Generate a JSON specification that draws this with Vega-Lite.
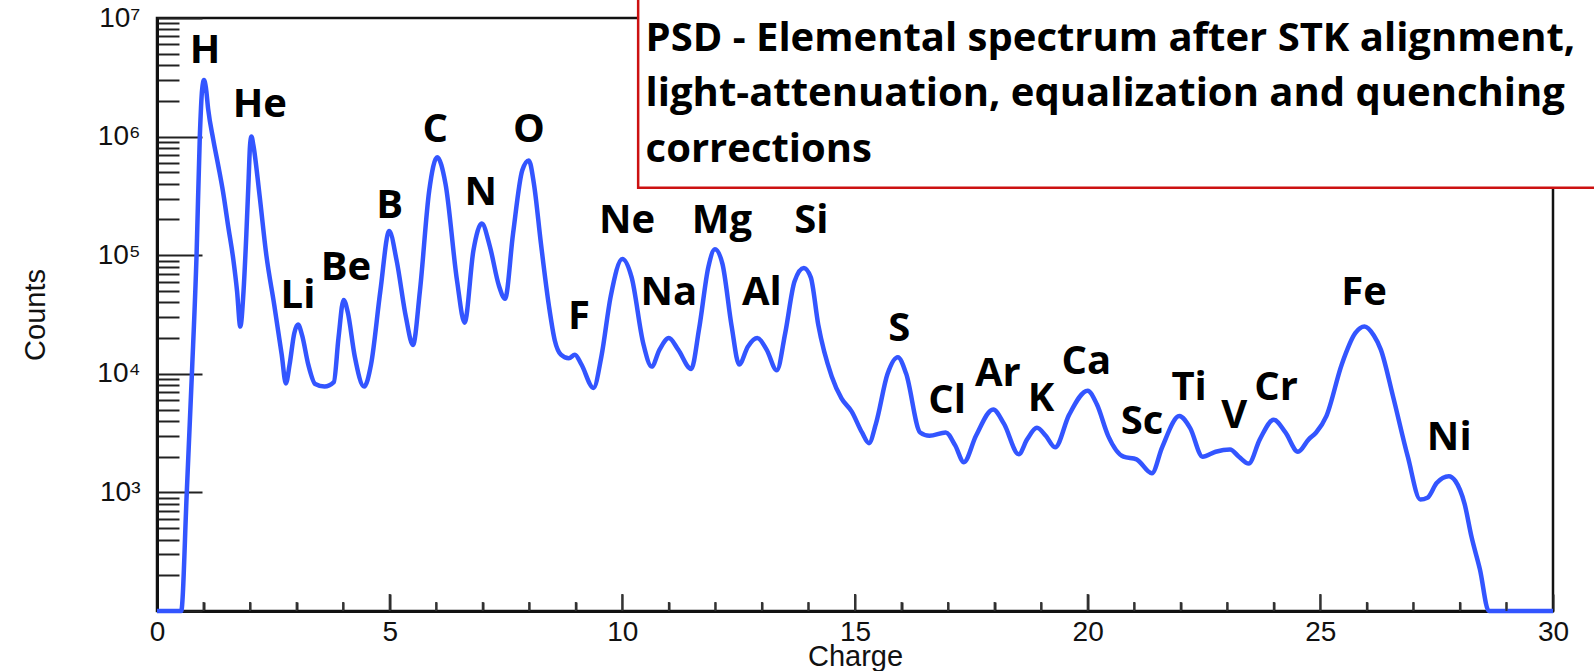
{
  "$schema": "https://vega.github.io/schema/vega-lite/v6.json",
  "width": 1396,
  "height": 593,
  "autosize": {"type": "none"},
  "padding": {"left": 157, "top": 18, "right": 41, "bottom": 60},
  "background": "white",
  "config": {
    "view": {"stroke": "#111", "strokeWidth": 2.5},
    "axis": {
      "grid": false,
      "ticks": true,
      "zindex": 1,
      "domainColor": "#111",
      "domainWidth": 3,
      "tickColor": "#222",
      "tickWidth": 2,
      "labelFont": "Liberation Sans",
      "labelFontSize": 28,
      "labelColor": "#111",
      "labelOverlap": false,
      "labelFlush": false,
      "titleFont": "Liberation Sans",
      "titleFontSize": 29,
      "titleFontWeight": "normal",
      "titleColor": "#111"
    }
  },
  "datasets": {
    "spectrum": [
      {"charge": 0, "counts": 100}, {"charge": 0.52, "counts": 100}, {"charge": 0.64, "counts": 1000},
      {"charge": 0.75, "counts": 10000}, {"charge": 0.85, "counts": 100000}, {"charge": 0.92, "counts": 1000000},
      {"charge": 0.97, "counts": 2500000}, {"charge": 1.01, "counts": 3000000}, {"charge": 1.05, "counts": 2600000},
      {"charge": 1.1, "counts": 1700000}, {"charge": 1.21, "counts": 940000}, {"charge": 1.32, "counts": 560000},
      {"charge": 1.42, "counts": 340000}, {"charge": 1.53, "counts": 175000}, {"charge": 1.64, "counts": 92000},
      {"charge": 1.72, "counts": 50000}, {"charge": 1.79, "counts": 25000}, {"charge": 1.86, "counts": 50000},
      {"charge": 1.92, "counts": 150000}, {"charge": 1.97, "counts": 450000}, {"charge": 2.0, "counts": 850000},
      {"charge": 2.03, "counts": 1000000}, {"charge": 2.07, "counts": 850000}, {"charge": 2.2, "counts": 330000},
      {"charge": 2.35, "counts": 100000}, {"charge": 2.52, "counts": 38000}, {"charge": 2.68, "counts": 14500},
      {"charge": 2.77, "counts": 8300}, {"charge": 2.85, "counts": 12000}, {"charge": 2.95, "counts": 22000},
      {"charge": 3.03, "counts": 26000}, {"charge": 3.12, "counts": 21000}, {"charge": 3.25, "counts": 12000},
      {"charge": 3.4, "counts": 8200}, {"charge": 3.6, "counts": 7800}, {"charge": 3.8, "counts": 8500},
      {"charge": 3.9, "counts": 20000}, {"charge": 4.01, "counts": 42000}, {"charge": 4.1, "counts": 33000},
      {"charge": 4.25, "counts": 14000}, {"charge": 4.45, "counts": 7800}, {"charge": 4.6, "counts": 12000},
      {"charge": 4.8, "counts": 50000}, {"charge": 4.99, "counts": 160000}, {"charge": 5.15, "counts": 90000},
      {"charge": 5.35, "counts": 30000}, {"charge": 5.5, "counts": 17500}, {"charge": 5.65, "counts": 50000},
      {"charge": 5.85, "counts": 350000}, {"charge": 6.02, "counts": 670000}, {"charge": 6.2, "counts": 400000},
      {"charge": 6.45, "counts": 60000}, {"charge": 6.61, "counts": 27000}, {"charge": 6.8, "counts": 110000},
      {"charge": 6.98, "counts": 185000}, {"charge": 7.15, "counts": 120000}, {"charge": 7.35, "counts": 55000},
      {"charge": 7.48, "counts": 43000}, {"charge": 7.65, "counts": 150000}, {"charge": 7.85, "counts": 520000},
      {"charge": 7.99, "counts": 630000}, {"charge": 8.1, "counts": 400000}, {"charge": 8.25, "counts": 126000},
      {"charge": 8.42, "counts": 38000}, {"charge": 8.55, "counts": 19000}, {"charge": 8.68, "counts": 14500},
      {"charge": 8.85, "counts": 13500}, {"charge": 8.98, "counts": 14500}, {"charge": 9.12, "counts": 12000},
      {"charge": 9.38, "counts": 7600}, {"charge": 9.55, "counts": 14000}, {"charge": 9.75, "counts": 45000},
      {"charge": 10.0, "counts": 93000}, {"charge": 10.2, "counts": 65000}, {"charge": 10.45, "counts": 18000},
      {"charge": 10.63, "counts": 11500}, {"charge": 10.8, "counts": 16000}, {"charge": 11.0, "counts": 20000},
      {"charge": 11.2, "counts": 16000}, {"charge": 11.48, "counts": 11000}, {"charge": 11.65, "counts": 24000},
      {"charge": 11.85, "counts": 80000}, {"charge": 11.99, "counts": 112000}, {"charge": 12.15, "counts": 85000},
      {"charge": 12.35, "counts": 25000}, {"charge": 12.51, "counts": 12000}, {"charge": 12.7, "counts": 17000},
      {"charge": 12.9, "counts": 20000}, {"charge": 13.1, "counts": 16000}, {"charge": 13.32, "counts": 10700},
      {"charge": 13.5, "counts": 22000}, {"charge": 13.7, "counts": 60000}, {"charge": 13.9, "counts": 78000},
      {"charge": 14.05, "counts": 65000}, {"charge": 14.21, "counts": 26000}, {"charge": 14.5, "counts": 9500},
      {"charge": 14.71, "counts": 6200}, {"charge": 14.93, "counts": 4800}, {"charge": 15.15, "counts": 3200},
      {"charge": 15.3, "counts": 2600}, {"charge": 15.45, "counts": 3800}, {"charge": 15.7, "counts": 10000},
      {"charge": 15.92, "counts": 13800}, {"charge": 16.1, "counts": 10000}, {"charge": 16.4, "counts": 3200},
      {"charge": 16.6, "counts": 3000}, {"charge": 16.95, "counts": 3200}, {"charge": 17.15, "counts": 2500},
      {"charge": 17.34, "counts": 1800}, {"charge": 17.6, "counts": 3000}, {"charge": 17.97, "counts": 5000},
      {"charge": 18.2, "counts": 3800}, {"charge": 18.52, "counts": 2100}, {"charge": 18.7, "counts": 2800},
      {"charge": 18.91, "counts": 3500}, {"charge": 19.1, "counts": 3000}, {"charge": 19.3, "counts": 2400},
      {"charge": 19.6, "counts": 4500}, {"charge": 20.0, "counts": 7200}, {"charge": 20.2, "counts": 5500},
      {"charge": 20.44, "counts": 3000}, {"charge": 20.77, "counts": 2000}, {"charge": 21.05, "counts": 1900},
      {"charge": 21.38, "counts": 1450}, {"charge": 21.6, "counts": 2400}, {"charge": 21.97, "counts": 4400},
      {"charge": 22.2, "counts": 3500}, {"charge": 22.47, "counts": 2000}, {"charge": 22.75, "counts": 2200},
      {"charge": 23.06, "counts": 2300}, {"charge": 23.25, "counts": 2000}, {"charge": 23.46, "counts": 1750},
      {"charge": 23.7, "counts": 2800}, {"charge": 24.0, "counts": 4100}, {"charge": 24.25, "counts": 3200},
      {"charge": 24.52, "counts": 2200}, {"charge": 24.75, "counts": 2800}, {"charge": 24.91, "counts": 3200},
      {"charge": 25.13, "counts": 4400}, {"charge": 25.46, "counts": 12000}, {"charge": 25.75, "counts": 22000},
      {"charge": 25.95, "counts": 25000}, {"charge": 26.15, "counts": 21000}, {"charge": 26.3, "counts": 16000},
      {"charge": 26.56, "counts": 6500}, {"charge": 26.88, "counts": 2000}, {"charge": 27.15, "counts": 870},
      {"charge": 27.3, "counts": 900}, {"charge": 27.5, "counts": 1200}, {"charge": 27.76, "counts": 1370},
      {"charge": 27.9, "counts": 1250}, {"charge": 28.1, "counts": 800}, {"charge": 28.25, "counts": 420},
      {"charge": 28.43, "counts": 224}, {"charge": 28.62, "counts": 100}, {"charge": 30, "counts": 100}
    ],
    "minorTicks": [
      {"charge": 1}, {"charge": 2}, {"charge": 3}, {"charge": 4}, {"charge": 6}, {"charge": 7},
      {"charge": 8}, {"charge": 9}, {"charge": 11}, {"charge": 12}, {"charge": 13}, {"charge": 14},
      {"charge": 16}, {"charge": 17}, {"charge": 18}, {"charge": 19}, {"charge": 21}, {"charge": 22},
      {"charge": 23}, {"charge": 24}, {"charge": 26}, {"charge": 27}, {"charge": 28}, {"charge": 29}
    ],
    "majorTicks": [
      {"charge": 5}, {"charge": 10}, {"charge": 15}, {"charge": 20}, {"charge": 25}
    ],
    "elements": [
      {"label": "H", "charge": 1.03, "counts": 5270000},
      {"label": "He", "charge": 2.21, "counts": 1850000},
      {"label": "Li", "charge": 3.03, "counts": 44900},
      {"label": "Be", "charge": 4.06, "counts": 78700},
      {"label": "B", "charge": 5.0, "counts": 261000},
      {"label": "C", "charge": 5.98, "counts": 1140000},
      {"label": "N", "charge": 6.96, "counts": 337000},
      {"label": "O", "charge": 7.99, "counts": 1140000},
      {"label": "F", "charge": 9.07, "counts": 30400},
      {"label": "Ne", "charge": 10.1, "counts": 195000},
      {"label": "Na", "charge": 11.0, "counts": 48400},
      {"label": "Mg", "charge": 12.14, "counts": 195000},
      {"label": "Al", "charge": 13.0, "counts": 48400},
      {"label": "Si", "charge": 14.06, "counts": 195000},
      {"label": "S", "charge": 15.95, "counts": 23700},
      {"label": "Cl", "charge": 16.98, "counts": 5860},
      {"label": "Ar", "charge": 18.07, "counts": 10000},
      {"label": "K", "charge": 19.0, "counts": 6090},
      {"label": "Ca", "charge": 19.97, "counts": 12500},
      {"label": "Sc", "charge": 21.17, "counts": 3900},
      {"label": "Ti", "charge": 22.18, "counts": 7530},
      {"label": "V", "charge": 23.15, "counts": 4380},
      {"label": "Cr", "charge": 24.05, "counts": 7530},
      {"label": "Fe", "charge": 25.94, "counts": 48400},
      {"label": "Ni", "charge": 27.77, "counts": 2860}
    ],
    "captionBox": [
      {"x0": 10.34, "x1": 32, "y0": 371000, "y1": 30000000}
    ],
    "caption": [
      {"text": "PSD - Elemental spectrum after STK alignment,", "charge": 10.5, "counts": 6660000},
      {"text": "light-attenuation, equalization and quenching", "charge": 10.5, "counts": 2290000},
      {"text": "corrections", "charge": 10.5, "counts": 774000}
    ]
  },
  "layer": [
    {
      "data": {"name": "spectrum"},
      "mark": {"type": "line", "color": "#3355ff", "strokeWidth": 4.5, "interpolate": "monotone", "strokeJoin": "round"},
      "encoding": {
        "x": {
          "field": "charge",
          "type": "quantitative",
          "scale": {"domain": [0, 30], "nice": false, "zero": false},
          "axis": {
            "title": "Charge",
            "values": [0, 1, 2, 3, 4, 5, 6, 7, 8, 9, 10, 11, 12, 13, 14, 15, 16, 17, 18, 19, 20, 21, 22, 23, 24, 25, 26, 27, 28, 29, 30],
            "labelExpr": "datum.value % 5 === 0 ? datum.label : ''",
            "tickSize": {"condition": {"test": "datum.value % 5 === 0", "value": -17}, "value": -9},
            "labelPadding": 24,
            "titlePadding": -12
          }
        },
        "y": {
          "field": "counts",
          "type": "quantitative",
          "scale": {"type": "log", "domain": [100, 10000000], "nice": false},
          "axis": {
            "title": "Counts",
            "values": [100, 200, 300, 400, 500, 600, 700, 800, 900, 1000, 2000, 3000, 4000, 5000, 6000, 7000, 8000, 9000, 10000, 20000, 30000, 40000, 50000, 60000, 70000, 80000, 90000, 100000, 200000, 300000, 400000, 500000, 600000, 700000, 800000, 900000, 1000000, 2000000, 3000000, 4000000, 5000000, 6000000, 7000000, 8000000, 9000000, 10000000],
            "labelExpr": "datum.value === 1000 ? '10³' : datum.value === 10000 ? '10⁴' : datum.value === 100000 ? '10⁵' : datum.value === 1000000 ? '10⁶' : datum.value === 10000000 ? '10⁷' : ''",
            "tickSize": {"condition": {"test": "indexof([100, 1000, 10000, 100000, 1000000, 10000000], datum.value) >= 0", "value": -45}, "value": -22},
            "labelPadding": 62,
            "titlePadding": 46
          }
        }
      }
    },
    {
      "data": {"name": "minorTicks"},
      "mark": {"type": "rule", "color": "#333", "strokeWidth": 2},
      "encoding": {
        "x": {"field": "charge", "type": "quantitative"},
        "y": {"datum": 100},
        "y2": {"datum": 119}
      }
    },
    {
      "data": {"name": "majorTicks"},
      "mark": {"type": "rule", "color": "#333", "strokeWidth": 2},
      "encoding": {
        "x": {"field": "charge", "type": "quantitative"},
        "y": {"datum": 100},
        "y2": {"datum": 139}
      }
    },
    {
      "data": {"name": "captionBox"},
      "mark": {"type": "rect", "fill": "white", "stroke": "#cc1111", "strokeWidth": 2.5},
      "encoding": {
        "x": {"field": "x0", "type": "quantitative"},
        "x2": {"field": "x1"},
        "y": {"field": "y0", "type": "quantitative"},
        "y2": {"field": "y1"}
      }
    },
    {
      "data": {"name": "caption"},
      "mark": {"type": "text", "font": "Open Sans", "fontWeight": "bold", "fontSize": 40, "align": "left", "baseline": "middle", "color": "#000"},
      "encoding": {
        "x": {"field": "charge", "type": "quantitative"},
        "y": {"field": "counts", "type": "quantitative"},
        "text": {"field": "text"}
      }
    },
    {
      "data": {"name": "elements"},
      "mark": {"type": "text", "font": "Open Sans", "fontWeight": "bold", "fontSize": 40, "align": "center", "baseline": "middle", "color": "#000"},
      "encoding": {
        "x": {"field": "charge", "type": "quantitative"},
        "y": {"field": "counts", "type": "quantitative"},
        "text": {"field": "label"}
      }
    }
  ]
}
